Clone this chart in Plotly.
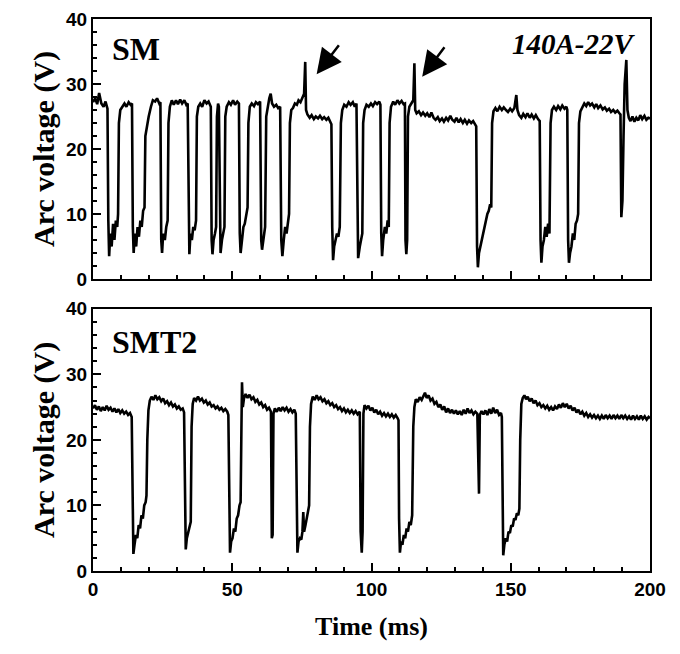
import plotly.graph_objects as go

# ---------------- SM (top panel) ----------------
sm_time = [
    0, 0.8, 1.5, 2.2, 3, 3.8, 4.5, 5.2,
    5.5, 5.8, 6.2, 6.7, 7.2, 7.7, 8.2, 8.7, 9.0,
    9.3, 9.8, 10.5, 11.3, 12, 12.8, 13.5, 14.0,
    14.3, 14.6, 15, 15.5, 16, 16.5, 17, 17.5, 18, 18.5,
    18.8, 19.3, 20, 20.8, 21.5, 22.3, 23, 23.8, 24.2,
    24.5, 24.8, 25.2, 25.8, 26.3, 26.8,
    27.1, 27.6, 28.3, 29, 29.8, 30.5, 31.3, 32, 32.8, 33.5, 34,
    34.3, 34.6, 35, 35.5, 36, 36.5, 37,
    37.3, 37.8, 38.5, 39.2, 40, 40.8, 41.5, 42.3,
    42.6, 42.9, 43.3, 43.8, 44.2,
    44.5, 44.9, 45.2,
    45.5, 45.8, 46.3, 46.8, 47.2,
    47.5, 48, 48.8, 49.5, 50.3, 51, 51.8, 52.4,
    52.7, 53, 53.5, 54, 54.5, 55, 55.5,
    55.8, 56.3, 57, 57.8, 58.5, 59.2, 60,
    60.4, 60.7, 61.2, 61.8,
    62.2, 62.7, 63.3, 63.8, 64.3, 65, 65.8, 66.5, 67.2,
    67.6, 68, 68.5, 69, 69.5, 70, 70.4,
    70.7, 71.2, 71.8, 72.5, 73.2, 73.8, 74.5, 75.2, 75.8, 76.2,
    76.5, 77, 77.8, 78.5, 79.3, 80, 80.8, 81.5, 82.3, 83,
    83.8, 84.5, 85.3, 85.6,
    85.9, 86.2, 86.6, 87.1, 87.6, 88.1, 88.6,
    89, 89.5, 90.2, 91, 91.8, 92.5, 93.3, 94, 94.6,
    94.9, 95.2, 95.8, 96.3, 96.7,
    97, 97.5, 98.2, 99, 99.8, 100.5, 101.3, 102, 102.8, 103.2,
    103.5, 103.8, 104.2, 104.8, 105.3, 105.8, 106.2,
    106.5, 107, 107.8, 108.5, 109.3, 110, 110.8, 111.5, 112,
    112.2, 112.5, 112.8,
    113.1, 113.6, 114.3, 115, 115.4, 115.7, 116.2, 117, 117.8, 118.5,
    119.3, 120, 120.8, 121.5, 122.3, 123, 123.8, 124.5, 125.3, 126,
    126.8, 127.5, 128.3, 129, 129.8, 130.5, 131.3, 132, 132.8, 133.5,
    134.3, 135, 135.8, 136.5, 137.2, 137.6,
    137.9, 138.2, 138.6, 139.1, 139.6, 140.1, 140.6, 141.1, 141.6, 142.1, 142.6, 143,
    143.3, 143.8, 144.5, 145.2, 146, 146.8, 147.5, 148.3, 149,
    149.8, 150.5, 151.3, 152, 152.4, 153, 153.8, 154.5, 155.3, 156,
    156.8, 157.5, 158.3, 159, 159.8, 160.4,
    160.7, 161, 161.4, 161.9, 162.4, 162.9, 163.4, 163.9,
    164.3, 164.8, 165.5, 166.3, 167, 167.8, 168.5, 169.3, 170, 170.3,
    170.6, 170.9, 171.3, 171.8, 172.3, 172.8, 173.3, 173.8, 174.2,
    174.5, 175, 175.7, 176.4, 177.1, 177.8, 178.5, 179.2, 180, 180.7,
    181.4, 182.2, 183, 183.8, 184.5, 185.3, 186, 186.8, 187.5, 188.3,
    189, 189.4,
    189.7, 190.1, 190.5, 190.9, 191.5, 191.9, 192.4, 193, 193.7, 194.4,
    195.1, 195.8, 196.5, 197.2, 198, 198.7, 199.4, 200,
]
sm_voltage = [
    27.2, 27.8, 26.9, 28.6, 27, 26.5, 27.3, 26.2,
    9, 3.5, 7, 5, 8.5, 6, 9, 8, 10,
    24, 26, 26.5, 27, 26.5, 27.2, 26.8, 27,
    8, 4, 7, 5, 8, 6.5, 9, 8, 10.5, 11,
    22, 23.5, 25, 26.5, 27.5, 27.3, 27.8, 27, 27.2,
    6, 4, 7, 6, 8, 9,
    24, 26.5, 27.5, 26.8, 27.5, 26.9, 27.6, 27, 27.5, 26.8, 27,
    7, 3.8, 7, 6, 8, 7.5, 9,
    25, 26.5, 27, 26.5, 27.5, 27, 27.3, 26.5,
    6, 3.8, 6, 7, 8,
    25, 27, 26.5,
    6, 4, 6, 7, 8,
    25, 26.5, 27.2, 26.8, 27.5, 26.8, 27.3, 27,
    7, 4, 6, 8, 8.5, 10, 11,
    24, 26.5, 27, 26.6, 27.2, 26.9, 27.3,
    6, 4.5, 6, 8,
    25, 26.5, 27.8, 28.5, 27, 26.5, 26.8, 26.3, 26.5,
    6, 3.5, 6, 8, 7, 9, 10,
    24, 26, 26.3, 27, 26.8, 27.5, 27.2, 28, 28.5, 33.4,
    26, 25.3, 24.8, 25.2, 24.6, 25, 24.7, 25.1, 24.6, 24.9,
    24.5, 24.8, 24.2, 23.8,
    8, 2.9, 5, 6, 7, 6.5, 8,
    24, 26, 26.8, 26.5, 27.2, 26.8, 27.2, 26.5, 27,
    6, 3.2, 5, 6, 7,
    24, 26, 26.8, 26.5, 27, 26.6, 27.2, 26.9, 27.3, 26.8,
    7, 3.5, 6, 8, 7, 9, 8,
    24, 26.5, 27.3, 26.8, 27.5, 27, 27.4, 26.9, 27,
    6, 3.8, 6,
    25, 26.5, 27, 27.5, 33.2, 26, 25.5, 25.8, 25.2, 25.6,
    25.1, 25.5, 24.9, 25.6, 24.8, 24.5, 24.9, 24.3, 24.7, 24.2,
    24.8, 24.4, 25.1, 24.5, 24.2, 24.8, 24.1, 24.6, 24, 24.5,
    23.9, 24.4, 24, 24.3, 23.8, 23.5,
    5, 1.8, 4, 5, 6.5, 7, 8.5, 9, 10, 10.5, 11.5, 11,
    24, 25.8, 26.3, 25.8, 26.5, 26, 26.4, 26, 25.7,
    26.2, 25.8, 26.3, 28.3, 26, 25.2, 24.8, 25.4, 24.9, 25.5,
    24.8, 25.3, 24.7, 25.2, 24.6, 24.3,
    6, 2.5, 5, 6, 8, 6.5, 8.5, 7,
    24, 26, 26.5, 26, 26.6, 26.1, 26.7, 26.2, 26.5, 26,
    6, 2.5, 4, 5, 7, 6, 8.5, 9, 10,
    24, 25.8, 26.5, 27, 26.6, 27.2, 26.7, 27, 26.4, 26.9,
    26.3, 26.7, 26.1, 26.4, 25.9, 26.2, 25.7, 26, 25.6, 25.9,
    25.5, 25.3,
    9.5, 12, 22, 30, 33.7, 26, 24.8, 24.3, 25, 24.2,
    24.8, 24.4, 25.2, 24.6, 25.1, 24.5, 24.8, 24.7,
]

# ---------------- SMT2 (bottom panel) ----------------
smt2_time = [
    0, 0.7, 1.4, 2.1, 2.8, 3.5, 4.2, 4.9, 5.6, 6.3,
    7, 7.7, 8.4, 9.1, 9.8, 10.5, 11.2, 11.9, 12.6, 13.3, 13.9,
    14.2, 14.5, 14.9, 15.4, 15.9, 16.4, 16.9, 17.4, 17.9, 18.4, 18.9, 19.2,
    19.5, 19.9, 20.4, 21, 21.7, 22.4, 23.1, 23.8, 24.5, 25.2,
    25.9, 26.6, 27.3, 28, 28.7, 29.4, 30.1, 30.8, 31.5, 32.2, 32.7,
    33, 33.3, 33.7, 34.2, 34.7, 35.1,
    35.4, 35.8, 36.3, 37, 37.7, 38.4, 39.1, 39.8, 40.5, 41.2,
    41.9, 42.6, 43.3, 44, 44.7, 45.4, 46.1, 46.8, 47.5, 48.2, 48.6,
    48.9, 49.2, 49.6, 50.1, 50.6, 51.1, 51.6, 52.1, 52.6, 53,
    53.3, 53.5, 53.8, 54.2, 54.8, 55.5, 56.2, 56.9, 57.6, 58.3,
    59, 59.7, 60.4, 61.1, 61.8, 62.5, 63.2, 63.9,
    64.2, 64.5,
    64.8, 65.3, 66, 66.7, 67.4, 68.1, 68.8, 69.5, 70.2, 70.9, 71.6, 72.3, 72.8,
    73.1, 73.4, 73.8, 74.3, 74.8, 75.2, 75.5, 75.8, 76.3, 76.8, 77.3, 77.6,
    77.9, 78.3, 78.9, 79.6, 80.3, 81, 81.7, 82.4, 83.1, 83.8,
    84.5, 85.2, 85.9, 86.6, 87.3, 88, 88.7, 89.4, 90.1, 90.8,
    91.5, 92.2, 92.9, 93.6, 94.3, 95, 95.8,
    96.1, 96.5, 96.8,
    97.1, 97.5, 98.2, 98.9, 99.6, 100.3, 101, 101.7, 102.4, 103.1,
    103.8, 104.5, 105.2, 105.9, 106.6, 107.3, 108, 108.7, 109.4, 109.7,
    109.9, 110.2, 110.6, 111.1, 111.6, 112.1, 112.6, 113.1, 113.6, 114.1, 114.6,
    115, 115.4, 115.9, 116.6, 117.3, 118, 118.7, 119.2, 119.8, 120.5,
    121.2, 121.9, 122.6, 123.3, 124, 124.7, 125.4, 126.1, 126.8, 127.5,
    128.2, 128.9, 129.6, 130.3, 131, 131.7, 132.4, 133.1, 133.8, 134.5,
    135.2, 135.9, 136.6, 137.3, 138,
    138.6, 138.9, 139.5, 140.2, 140.9, 141.6, 142.3, 143, 143.7, 144.4,
    145.1, 145.8, 146.5, 146.8,
    147, 147.3, 147.7, 148.2, 148.7, 149.2, 149.7, 150.2, 150.7, 151.2,
    151.7, 152.2, 152.7, 153.1,
    153.4, 153.8, 154.3, 154.9, 155.5, 156.1,
    156.8, 157.5, 158.2, 158.9, 159.6, 160.3, 161, 161.7, 162.4, 163.1,
    163.8, 164.5, 165.2, 165.9, 166.6, 167.3, 168, 168.7, 169.4, 170.1,
    170.8, 171.5, 172.2, 172.9, 173.6, 174.3, 175, 175.7, 176.4, 177.1,
    177.8, 178.5, 179.2, 179.9, 180.6, 181.3, 182, 182.7, 183.4, 184.1,
    184.8, 185.5, 186.2, 186.9, 187.6, 188.3, 189, 189.7, 190.4, 191.1,
    191.8, 192.5, 193.2, 193.9, 194.6, 195.3, 196, 196.7, 197.4, 198.1,
    198.8, 199.5, 200,
]
smt2_voltage = [
    24.8, 25.3, 24.6, 25.1, 24.4, 25, 24.5, 25.2, 24.6, 24.9,
    24.3, 24.8, 24.2, 24.7, 24.1, 24.5, 24, 24.3, 23.8, 24.1, 23.5,
    10, 2.6, 4, 5.5, 5, 7, 6.5, 8.5, 8, 10, 10.5, 11.5,
    20, 24.5, 26, 26.6, 26.1, 26.8, 26.2, 26.5, 25.9, 26.3,
    25.6, 25.9, 25.3, 25.7, 25.1, 25.4, 24.8, 25.1, 24.6, 24.8, 24.2,
    8, 3.3, 5, 6, 7, 7.5,
    22, 25.5, 26.4, 26, 26.6, 26, 26.3, 25.7, 26, 25.4,
    25.7, 25.1, 25.3, 24.8, 25.1, 24.6, 24.9, 24.4, 24.7, 24.3, 23.8,
    8, 2.8, 4.5, 5, 6.5, 6, 8, 8.5, 10, 10.5,
    22, 28.8, 25, 26.3, 27, 26.4, 26.9, 26.2, 26.5, 25.8,
    26.1, 25.4, 25.7, 25, 25.3, 24.6, 24.9, 24.3,
    5, 5.5,
    24, 24.8, 24.3, 24.9, 24.4, 25, 24.5, 24.9, 24.3, 24.7, 24.2, 24.6, 24,
    8, 2.8, 4.5, 5, 4.8, 6, 9, 6, 7, 8, 9.5, 10,
    22, 25.5, 26.6, 26.1, 26.8, 26.2, 26.5, 25.9, 26.2, 25.6,
    25.9, 25.3, 25.6, 25, 25.3, 24.7, 25, 24.4, 24.8, 24.2,
    24.6, 24.1, 24.5, 24, 24.4, 23.9, 24.3,
    6, 2.8, 6,
    24, 25.3, 24.8, 25.2, 24.5, 24.9, 24.2, 24.6, 23.9, 24.3,
    23.7, 24.1, 23.6, 24, 23.5, 23.9, 23.4, 23.8, 23.3, 23,
    8, 2.8, 4.5, 4, 5.5, 5, 6.5, 6, 7.5, 7, 8.5,
    22, 25, 26.2, 25.8, 26.5, 26.1, 26.8, 27.2, 26.4, 26.8,
    26, 26.3, 25.5, 25.8, 25, 25.4, 24.6, 25.1, 24.2, 24.8,
    24.1, 24.6, 24, 24.5, 23.9, 24.4, 23.8, 24.6, 24, 24.8,
    24.1, 24.5, 23.9, 24.3, 24,
    11.8, 23.8, 24.4, 23.9, 24.5, 23.8, 24.7, 24, 24.9, 24.1,
    24.6, 23.8, 24.1, 23.5,
    8, 2.4, 4, 5, 4.5, 6, 5.8, 7, 6.8, 8,
    7.8, 8.8, 8.5, 9.5,
    20, 25.5, 26.4, 26.8, 26.2, 26.6,
    25.9, 26.3, 25.6, 26, 25.3, 25.6, 25, 25.3, 24.8, 25.2,
    24.6, 25, 24.5, 25.1, 24.7, 25.4, 24.9, 25.6, 25, 25.5,
    24.8, 25.2, 24.5, 24.9, 24.2, 24.6, 23.9, 24.3, 23.7, 24.1,
    23.5, 23.9, 23.4, 23.8, 23.3, 23.7, 23.2, 23.7, 23.2, 23.8,
    23.3, 23.7, 23.2, 23.8, 23.3, 23.7, 23.2, 23.8, 23.3, 23.7,
    23.2, 23.6, 23.1, 23.7, 23.2, 23.6, 23.1, 23.7, 23.2, 23.6,
    23.1, 23.5, 23.3,
]

assert len(sm_time) == len(sm_voltage), (len(sm_time), len(sm_voltage))
assert len(smt2_time) == len(smt2_voltage), (len(smt2_time), len(smt2_voltage))

x_ticks = [0, 50, 100, 150, 200]
y_ticks = [0, 10, 20, 30, 40]

SERIF = "Liberation Serif"
SANS = "Liberation Sans"

fig = go.Figure()
fig.add_trace(go.Scatter(x=sm_time, y=sm_voltage, mode="lines",
                         line=dict(color="black", width=2.6), xaxis="x", yaxis="y",
                         showlegend=False, hoverinfo="skip"))
fig.add_trace(go.Scatter(x=smt2_time, y=smt2_voltage, mode="lines",
                         line=dict(color="black", width=2.6), xaxis="x2", yaxis="y2",
                         showlegend=False, hoverinfo="skip"))

def xaxis(show_labels, anchor):
    return dict(
        range=[0, 200], domain=[0, 1], anchor=anchor,
        tickvals=x_ticks, ticktext=[str(v) for v in x_ticks],
        showticklabels=show_labels,
        ticks="inside", ticklen=8, tickwidth=2, tickcolor="black",
        minor=dict(ticks="inside", dtick=10, ticklen=4, tickwidth=1.5, tickcolor="black"),
        showline=True, linewidth=2, linecolor="black", mirror=True,
        showgrid=False, zeroline=False,
        tickfont=dict(family=SANS, size=19, color="black", weight="bold"),
    )

def yaxis(domain, anchor):
    return dict(
        range=[0, 40], domain=domain, anchor=anchor,
        tickvals=y_ticks, ticktext=[str(v) for v in y_ticks],
        ticklabeloverflow="allow",
        ticks="inside", ticklen=8, tickwidth=2, tickcolor="black",
        minor=dict(ticks="inside", dtick=2, ticklen=4, tickwidth=1.5, tickcolor="black"),
        showline=True, linewidth=2, linecolor="black", mirror=True,
        showgrid=False, zeroline=False, automargin="left",
        tickfont=dict(family=SANS, size=19, color="black", weight="bold"),
        title=dict(text="Arc voltage (V)", standoff=3,
                   font=dict(family=SERIF, size=30, color="black", weight="bold")),
    )

xa2 = xaxis(True, "y2")
xa2["title"] = dict(text="Time (ms)", standoff=18,
                    font=dict(family=SERIF, size=26, color="black", weight="bold"))

fig.update_layout(
    width=672, height=646,
    margin=dict(l=85, r=30, t=9, b=83),
    paper_bgcolor="white", plot_bgcolor="white",
    xaxis=xaxis(False, "y"),
    yaxis=yaxis([0.529, 1.0], "x"),
    xaxis2=xa2,
    yaxis2=yaxis([0.0, 0.475], "x2"),
    annotations=[
        dict(text="SM", xref="x domain", yref="y domain", x=0.03, y=0.885,
             xanchor="left", yanchor="middle", showarrow=False,
             font=dict(family=SERIF, size=32, color="black", weight="bold")),
        dict(text="<i>140A-22V</i>", xref="x domain", yref="y domain", x=0.978, y=0.904,
             xanchor="right", yanchor="middle", showarrow=False,
             font=dict(family=SERIF, size=29, color="black", weight="bold")),
        dict(text="SMT2", xref="x2 domain", yref="y2 domain", x=0.03, y=0.875,
             xanchor="left", yanchor="middle", showarrow=False,
             font=dict(family=SERIF, size=32, color="black", weight="bold")),
        dict(x=80.3, y=31.5, ax=88.7, ay=36.2, xref="x", yref="y", axref="x", ayref="y",
             text="", showarrow=True, arrowhead=2, arrowsize=2, arrowwidth=2.5,
             arrowcolor="black"),
        dict(x=118.2, y=31.1, ax=126.6, ay=35.9, xref="x", yref="y", axref="x", ayref="y",
             text="", showarrow=True, arrowhead=2, arrowsize=2, arrowwidth=2.5,
             arrowcolor="black"),
    ],
)

fig.write_html("out.html")
